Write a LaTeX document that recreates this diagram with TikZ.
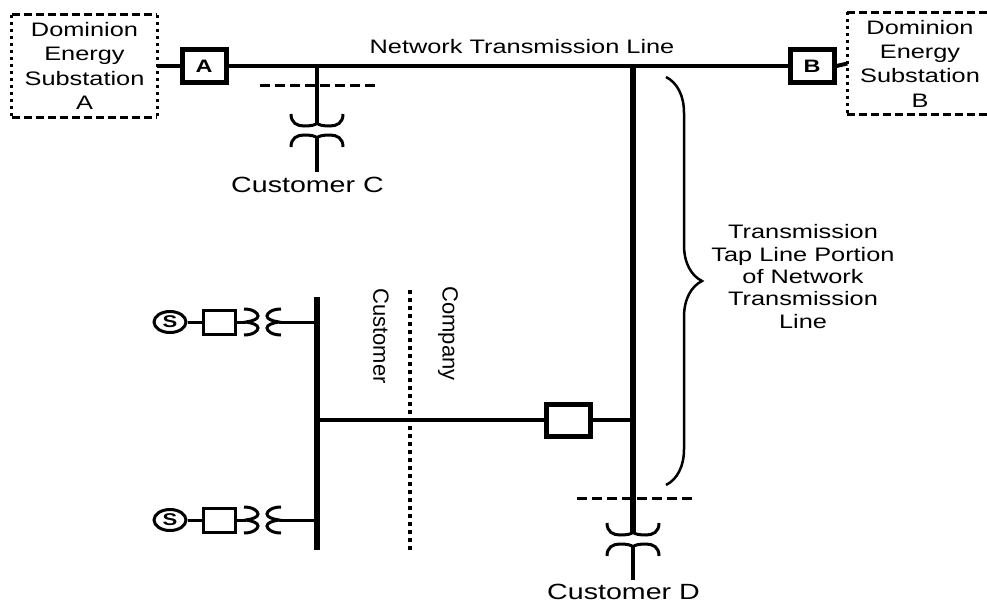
\documentclass[tikz,border=0pt]{standalone}
\usepackage{fontspec}
\setmainfont{Liberation Sans}[FakeStretch=1.3]
\newfontfamily\upfont{Liberation Sans}
\usetikzlibrary{positioning,decorations.pathreplacing,shapes.geometric}

\tikzset{
  brk/.style={draw, line width=5pt, minimum width=44pt, minimum height=32pt, inner sep=0pt, font=\fontsize{18}{18}\selectfont\bfseries},
  genbox/.style={draw, line width=3pt, minimum width=32pt, minimum height=24pt, inner sep=0pt},
  gen/.style={draw, ellipse, line width=3pt, minimum width=32pt, minimum height=21pt, inner sep=0pt, font=\fontsize{17}{17}\selectfont\bfseries},
  subst/.style={minimum width=145pt, minimum height=102pt, align=center, inner sep=0pt, font=\fontsize{19.5}{24.3}\selectfont},
  boxdash/.style={line width=3pt, dash pattern=on 8pt off 4pt},
  boxdot/.style={line width=3pt, dash pattern=on 3pt off 4pt},
  cutline/.style={line width=3pt, dash pattern=on 10pt off 5pt},
  coil/.style={line width=3pt},
  lbl/.style={inner sep=0pt, font=\fontsize{19.5}{22.3}\selectfont, align=center},
  cust/.style={inner sep=0pt, font=\fontsize{22}{22}\selectfont},
  side/.style={inner sep=0pt, rotate=-90, font=\upfont\fontsize{22}{22}\selectfont},
  % transformer, cusp of upper winding at the pic origin
  xfmr/.pic={
    \draw[coil] (-26,-10) .. controls (-26,-1) and (-20,2) .. (-13,2) .. controls (-6,2) and (-1,1) .. (0,-1)
      .. controls (1,1) and (6,2) .. (13,2) .. controls (20,2) and (26,-1) .. (26,-10);
    \draw[coil] (-26,23) .. controls (-26,14) and (-20,11) .. (-13,11) .. controls (-6,11) and (-1,12) .. (0,14)
      .. controls (1,12) and (6,11) .. (13,11) .. controls (20,11) and (26,14) .. (26,23);
  },
  % same, lying on its side
  xfmrh/.pic={
    \draw[coil] (-1,-13) .. controls (8,-13) and (13,-9) .. (13,-6) .. controls (13,-3) and (8,-1) .. (1,0)
      .. controls (8,1) and (13,3) .. (13,6) .. controls (13,9) and (8,13) .. (-1,13);
    \draw[coil] (36,-13) .. controls (27,-13) and (22,-9) .. (22,-6) .. controls (22,-3) and (27,-1) .. (34,0)
      .. controls (27,1) and (22,3) .. (22,6) .. controls (22,9) and (27,13) .. (36,13);
  },
}

\begin{document}
\begin{tikzpicture}[x=1pt,y=-1pt]
  \useasboundingbox (0,0) rectangle (987,602);

  % substations and breakers on the network line
  \node[subst] (subA) at (84.5,66) {Dominion\\Energy\\Substation\\A};
  \node[subst] (subB) at (920,63.5) {Dominion\\Energy\\Substation\\B};
  \draw[boxdash] (subA.north west) -- (subA.north east) (subA.south west) -- (subA.south east);
  \draw[boxdot] (subA.north west) -- (subA.south west) (subA.north east) -- (subA.south east);
  \draw[boxdash] (subB.north west) -- ([xshift=20pt]subB.north east) (subB.south west) -- ([xshift=20pt]subB.south east);
  \draw[boxdot] (subB.north west) -- (subB.south west);
  \node[brk] (brkA) at (204,66) {A};
  \node[brk] (brkB) at (812,66) {B};
  \draw[line width=4pt] (subA.east) -- (brkA.west);
  \draw[line width=4pt] (brkB.east) -- (subB.west);
  \draw[line width=4.5pt] (brkA.east) -- (brkB.west);
  \node[lbl, anchor=base] (netlbl) at (522,54) {Network Transmission Line};

  % customer C
  \coordinate (tapC) at (317,66);
  \coordinate (xC) at (317,124);
  \draw[line width=4pt] (tapC) -- ([yshift=1pt]xC);
  \pic at (xC) {xfmr};
  \node[cust, anchor=base] (custC) at (307.5,192) {Customer C};
  \draw[line width=4pt] (317,138) -- (317,172);
  \coordinate (cutC1) at (260,85);
  \coordinate (cutC2) at (378,85);
  \draw[cutline] (cutC1) -- (cutC2);

  % tap line to customer D
  \coordinate (tapD) at (633,66);
  \coordinate (xD) at (633,533);
  \draw[line width=5.5pt] (tapD) -- ([yshift=1pt]xD);
  \pic at (xD) {xfmr};
  \node[cust, anchor=base] (custD) at (623.5,599) {Customer D};
  \draw[line width=4pt] (633,547) -- (633,580);
  \coordinate (cutD1) at (577,498);
  \coordinate (cutD2) at (695,498);
  \draw[cutline] (cutD1) -- (cutD2);

  \draw[line width=2.5pt, decorate, decoration={brace, amplitude=36pt}] (666,77) -- (666,485);
  \node[lbl] (taplbl) at (803,276.5) {Transmission\\Tap Line Portion\\of Network\\Transmission\\Line};

  % customer bus with generators
  \coordinate (busT) at (317,297);
  \coordinate (busB) at (317,550);
  \draw[line width=6pt] (busT) -- (busB);
  \foreach \gy/\n in {322/1,520/2} {
    \node[gen] (g\n) at (170,\gy) {S};
    \node[genbox] (gb\n) at (219.5,\gy) {};
    \draw[line width=3pt] (g\n.east) -- (gb\n.west);
    \draw[line width=3pt] (gb\n.east) -- (246,\gy);
    \pic at (245,\gy) {xfmrh};
    \draw[line width=3pt] (279,\gy) -- (317,\gy);
  }
  \node[brk] (brkF) at (568,420) {};
  \draw[line width=3.5pt] (317,420) -- (brkF.west);
  \draw[line width=3.5pt] (brkF.east) -- (633,420);

  % ownership boundary
  \coordinate (own1) at (410,290);
  \coordinate (own2) at (410,553);
  \draw[line width=3.5pt, dash pattern=on 3.5pt off 4.5pt] (own1) -- (own2);
  \node[side] (sideC) at (381,336) {Customer};
  \node[side] (sideP) at (448,333.5) {Company};
\end{tikzpicture}
\end{document}
